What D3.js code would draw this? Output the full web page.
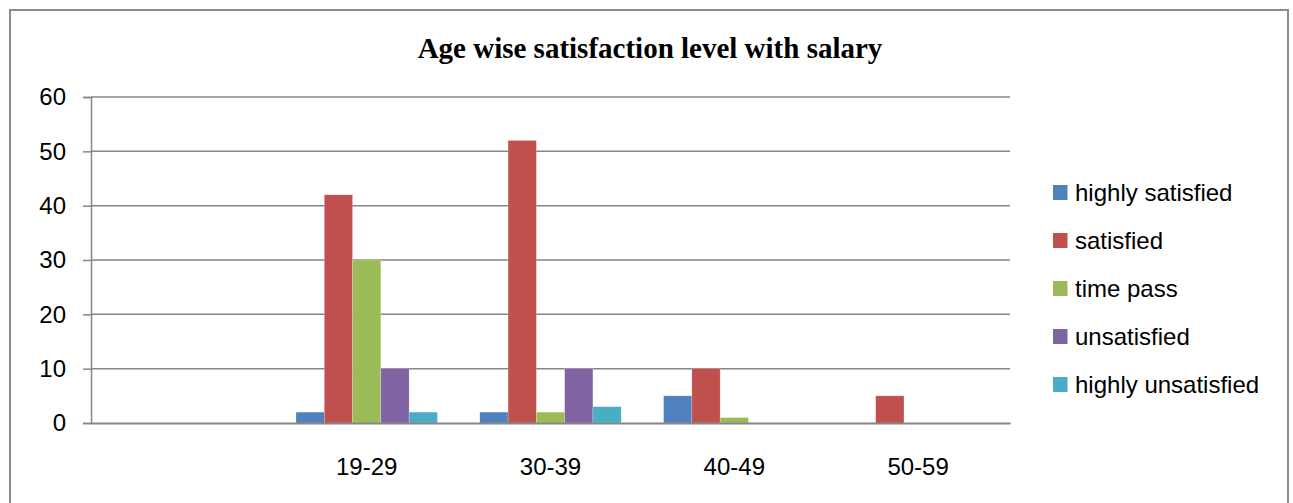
<!DOCTYPE html>
<html><head><meta charset="utf-8">
<script src="https://cdn.jsdelivr.net/npm/d3@7"></script>
<style>html,body{margin:0;padding:0;background:#fff;}svg{display:block;}</style>
</head><body>
<svg id="chart" width="1293" height="503"></svg>
<script>
const categories = ["", "19-29", "30-39", "40-49", "50-59"];
const seriesNames = ["highly satisfied", "satisfied", "time pass", "unsatisfied", "highly unsatisfied"];
const highlySatisfied = [0, 2, 2, 5, 0];
const satisfied = [0, 42, 52, 10, 5];
const timePass = [0, 30, 2, 1, 0];
const unsatisfied = [0, 10, 10, 0, 0];
const highlyUnsatisfied = [0, 2, 3, 0, 0];
const yTicks = [0, 10, 20, 30, 40, 50, 60];
const colors = ["#4F81BD", "#C0504D", "#9BBB59", "#8064A2", "#4BACC6"];
const title = "Age wise satisfaction level with salary";

const seriesValues = [highlySatisfied, satisfied, timePass, unsatisfied, highlyUnsatisfied];

const svg = d3.select("#chart");
const plot = {left: 91, right: 1010, top: 97, bottom: 423};
const sansFont = "'Liberation Sans',Arial,sans-serif";

// outer border
svg.append("rect").attr("x", 10).attr("y", 10).attr("width", 1278).attr("height", 520)
  .attr("fill", "none").attr("stroke", "#8c8c8c").attr("stroke-width", 2);

// title
svg.append("text").attr("x", 650).attr("y", 58)
  .attr("text-anchor", "middle")
  .style("font-family", "'Liberation Serif','Times New Roman',serif")
  .style("font-weight", "bold").style("font-size", "29px").attr("fill", "#000")
  .text(title);

const x0 = d3.scaleBand().domain(categories).range([plot.left, plot.right]).paddingInner(0).paddingOuter(0);
const bw = x0.bandwidth() / (seriesNames.length + 1.5);
const x1 = d3.scaleBand().domain(seriesNames)
  .range([x0.bandwidth() / 2 - bw * seriesNames.length / 2, x0.bandwidth() / 2 + bw * seriesNames.length / 2]);
const y = d3.scaleLinear().domain([0, 60]).range([plot.bottom, plot.top]);

// y axis
const yAxis = d3.axisLeft(y).tickValues(yTicks).tickSize(8).tickPadding(17).tickFormat(d3.format("d"));
const gy = svg.append("g").attr("transform", `translate(${plot.left},0)`).call(yAxis);
gy.select(".domain").attr("stroke", "#868686").attr("stroke-width", 1.5);
gy.selectAll(".tick line").attr("stroke", "#868686").attr("stroke-width", 1.5);
gy.selectAll(".tick text").style("font-family", sansFont)
  .style("font-size", "24px").attr("fill", "#000");

// gridlines
svg.append("g").selectAll("line").data(yTicks.filter(d => d > 0)).join("line")
  .attr("x1", plot.left).attr("x2", plot.right)
  .attr("y1", d => y(d)).attr("y2", d => y(d))
  .attr("stroke", "#868686").attr("stroke-width", 1.5);

// bars
const groups = svg.append("g").selectAll("g").data(categories).join("g")
  .attr("transform", d => `translate(${x0(d)},0)`);
groups.selectAll("rect")
  .data((c, ci) => seriesNames.map((s, si) => ({s, si, v: seriesValues[si][ci]})))
  .join("rect")
  .attr("x", d => x1(d.s)).attr("width", x1.bandwidth())
  .attr("y", d => y(d.v)).attr("height", d => y(0) - y(d.v))
  .attr("fill", d => colors[d.si])
  .attr("stroke", "#ffffff").attr("stroke-opacity", 0.35).attr("stroke-width", 0.6);

// x axis
const xAxis = d3.axisBottom(x0).tickSize(0).tickPadding(35);
const gx = svg.append("g").attr("transform", `translate(0,${plot.bottom})`).call(xAxis);
gx.select(".domain").attr("stroke", "#868686").attr("stroke-width", 2);
gx.selectAll(".tick text").style("font-family", sansFont)
  .style("font-size", "24px").attr("fill", "#000");

// legend
const lg = svg.append("g").attr("transform", "translate(1053,185)");
const items = lg.selectAll("g").data(seriesNames).join("g")
  .attr("transform", (d, i) => `translate(0,${i * 48})`);
items.append("rect").attr("width", 14.5).attr("height", 15).attr("fill", (d, i) => colors[i]);
items.append("text").attr("x", 22).attr("y", 16)
  .style("font-family", sansFont)
  .style("font-size", "24px").attr("fill", "#000").text(d => d);
</script>
</body></html>
